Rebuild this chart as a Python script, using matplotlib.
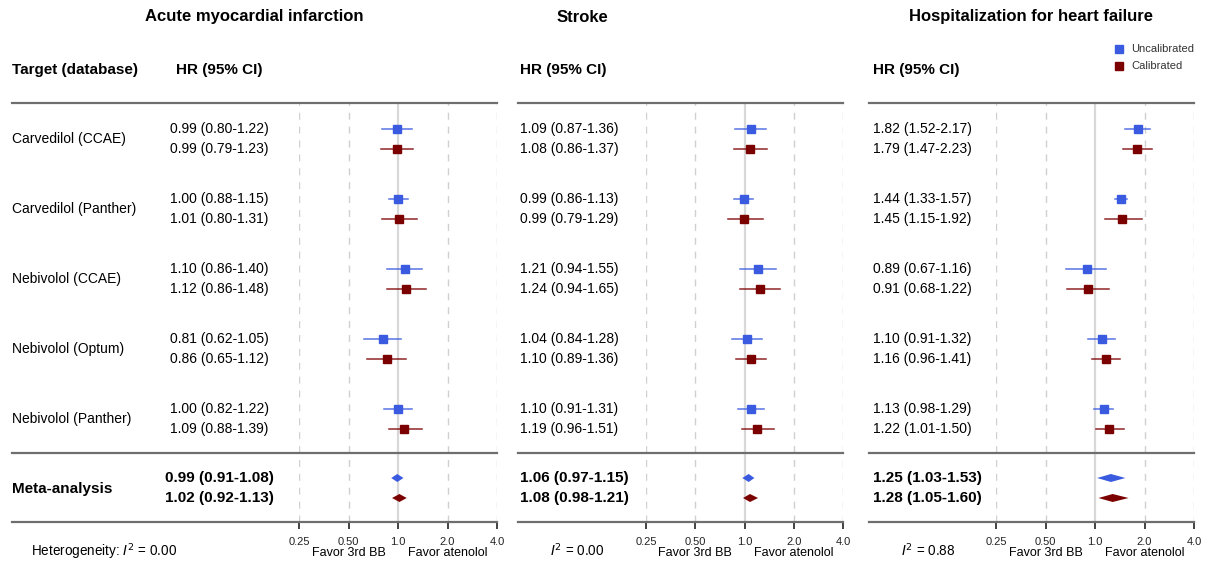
import numpy as np
import matplotlib
matplotlib.use("Agg")
import matplotlib.pyplot as plt
from matplotlib.lines import Line2D

plt.rcParams["font.family"] = ["Liberation Sans", "DejaVu Sans"]

# ---- data ----
targets = ["Carvedilol (CCAE)", "Carvedilol (Panther)", "Nebivolol (CCAE)",
           "Nebivolol (Optum)", "Nebivolol (Panther)"]
outcomes = ["Acute myocardial infarction", "Stroke", "Hospitalization for heart failure"]

# rows: 5 studies, then meta-analysis; columns: hr, lo, hi
ami_uncal = [[0.99, 0.80, 1.22], [1.00, 0.88, 1.15], [1.10, 0.86, 1.40],
             [0.81, 0.62, 1.05], [1.00, 0.82, 1.22], [0.99, 0.91, 1.08]]
ami_cal = [[0.99, 0.79, 1.23], [1.01, 0.80, 1.31], [1.12, 0.86, 1.48],
           [0.86, 0.65, 1.12], [1.09, 0.88, 1.39], [1.02, 0.92, 1.13]]
stroke_uncal = [[1.09, 0.87, 1.36], [0.99, 0.86, 1.13], [1.21, 0.94, 1.55],
                [1.04, 0.84, 1.28], [1.10, 0.91, 1.31], [1.06, 0.97, 1.15]]
stroke_cal = [[1.08, 0.86, 1.37], [0.99, 0.79, 1.29], [1.24, 0.94, 1.65],
              [1.10, 0.89, 1.36], [1.19, 0.96, 1.51], [1.08, 0.98, 1.21]]
hf_uncal = [[1.82, 1.52, 2.17], [1.44, 1.33, 1.57], [0.89, 0.67, 1.16],
            [1.10, 0.91, 1.32], [1.13, 0.98, 1.29], [1.25, 1.03, 1.53]]
hf_cal = [[1.79, 1.47, 2.23], [1.45, 1.15, 1.92], [0.91, 0.68, 1.22],
          [1.16, 0.96, 1.41], [1.22, 1.01, 1.50], [1.28, 1.05, 1.60]]
i2_values = [0.00, 0.00, 0.88]
tick_vals = [0.25, 0.5, 1.0, 2.0, 4.0]
tick_labels = ["0.25", "0.50", "1.0", "2.0", "4.0"]

series = [(ami_uncal, ami_cal), (stroke_uncal, stroke_cal), (hf_uncal, hf_cal)]

# ---- layout (pixels) ----
W, H = 1207, 564
BLUE = "#3a5ae0"
RED = "#7b0000"
LINE = "#6e6e6e"

fig = plt.figure(figsize=(W / 100, H / 100), dpi=100)


def fx(x):
    return x / W


def fy(y):
    return 1 - y / H


def ftext(x, y, s, **kw):
    fig.text(fx(x), fy(y), s, **kw)


def hline(x0, x1, y):
    fig.add_artist(Line2D([fx(x0), fx(x1)], [fy(y), fy(y)], color=LINE, lw=1.6))


Y_TOP, Y_SEP, Y_BOT = 103, 453, 522
panels = [
    # left/right of rules, HR column anchor + alignment, axis left/right, title centre, I2 x
    dict(l=12, r=497, hr=219, ha="center", a0=299, a1=497, title=254, i2x=31),
    dict(l=518, r=843, hr=520, ha="left", a0=646, a1=843, title=582, i2x=550),
    dict(l=869, r=1194, hr=873, ha="left", a0=996, a1=1194, title=1031, i2x=901),
]


def row_y(i, k):
    # i: study index (0..4) or 5 for meta; k: 0 uncal, 1 cal
    if i < 5:
        return 129 + 70 * i + 20 * k
    return 478 + 20 * k


for p, (name, (unc, cal), i2) in enumerate(zip(outcomes, series, i2_values)):
    P = panels[p]
    ftext(P["title"], 17, name, ha="center", va="center", fontsize=12, fontweight="bold")
    ftext(P["hr"], 70, "HR (95% CI)", ha=P["ha"], va="center", fontsize=11,
          fontweight="bold")
    for y in (Y_TOP, Y_SEP, Y_BOT):
        hline(P["l"], P["r"], y)

    ax = fig.add_axes([fx(P["a0"]), fy(Y_BOT), fx(P["a1"] - P["a0"]), (Y_BOT - Y_TOP) / H])
    ax.set_xscale("log", base=2)
    ax.set_xlim(0.25, 4.0)
    ax.set_ylim(Y_BOT, Y_TOP)
    for s in ax.spines.values():
        s.set_visible(False)
    ax.set_yticks([])
    ax.set_xticks(tick_vals)
    ax.set_xticklabels(tick_labels, fontsize=8, color="#222222")
    ax.xaxis.set_minor_locator(matplotlib.ticker.NullLocator())
    ax.tick_params(axis="x", length=5, width=1.2, color="#222222", pad=6)
    for t in tick_vals:
        if t == 1.0:
            ax.axvline(t, color="#d8d8d8", lw=1.6, zorder=0)
        else:
            ax.axvline(t, color="#d0d0d0", lw=1.0, ls=(0, (5, 5)), zorder=0)

    for k, (data, col) in enumerate(((unc, BLUE), (cal, RED))):
        for i, (hr, lo, hi) in enumerate(data):
            y = row_y(i, k)
            label = f"{hr:.2f} ({lo:.2f}-{hi:.2f})"
            if i < 5:
                ax.plot([lo, hi], [y, y], color=col, lw=1.1, alpha=0.85, zorder=2)
                ax.plot([hr], [y], marker="s", ms=6, color=col, zorder=3)
                ftext(P["hr"], y, label, ha=P["ha"], va="center", fontsize=10)
            else:
                ax.fill([lo, hr, hi, hr], [y, y - 4, y, y + 4], color=col, lw=0, zorder=3)
                ftext(P["hr"], y, label, ha=P["ha"], va="center", fontsize=11,
                      fontweight="bold")

    ax.text(0.5, -0.075, "Favor 3rd BB", transform=ax.get_xaxis_transform(),
            ha="center", va="center", fontsize=9)
    ax.text(2.0, -0.075, "Favor atenolol", transform=ax.get_xaxis_transform(),
            ha="center", va="center", fontsize=9)

    prefix = "Heterogeneity: " if p == 0 else ""
    ftext(P["i2x"], 551, prefix + r"$I^2$" + f" = {i2:.2f}", ha="left", va="center",
          fontsize=9.75)

# row labels (left panel only)
ftext(12, 70, "Target (database)", ha="left", va="center", fontsize=11, fontweight="bold")
for i, t in enumerate(targets):
    ftext(12, row_y(i, 0) + 10, t, ha="left", va="center", fontsize=10)
ftext(12, 489, "Meta-analysis", ha="left", va="center", fontsize=11, fontweight="bold")

# legend
for y, col, lab in ((49, BLUE, "Uncalibrated"), (66, RED, "Calibrated")):
    fig.add_artist(Line2D([fx(1119)], [fy(y)], marker="s", ms=6, color=col, lw=0))
    ftext(1131, y, lab, ha="left", va="center", fontsize=8, color="#333333")

fig.savefig("out.png", dpi=100)
